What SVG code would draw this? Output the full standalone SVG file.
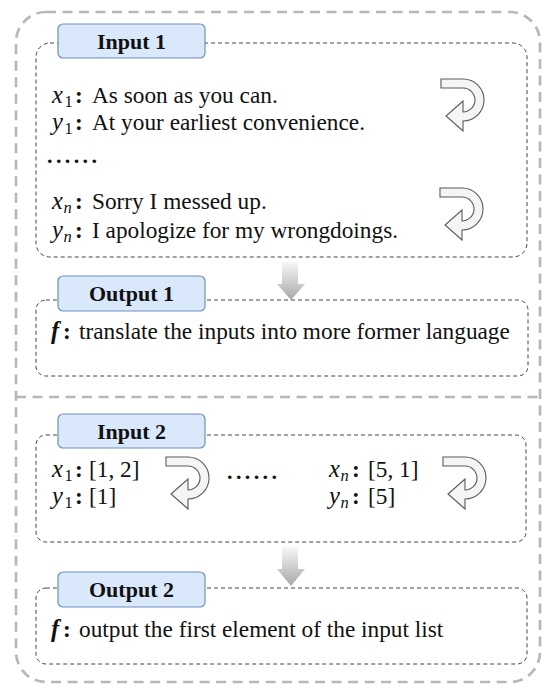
<svg xmlns="http://www.w3.org/2000/svg" width="542" height="685" viewBox="0 0 542 685">
<style>
.outer{fill:none;stroke:#b8b8b8;stroke-width:2.7;stroke-dasharray:10 6.5}
.box{fill:none;stroke:#444;stroke-width:1;stroke-dasharray:4 3}
.lab{fill:#dae8fc;stroke:#6c8ebf;stroke-width:1.2}
.lt{font-family:"Liberation Serif","Times New Roman",serif;font-size:22px;font-weight:bold;fill:#111;text-anchor:middle}
.t{font-family:"Liberation Serif","Times New Roman",serif;font-size:23.3px;fill:#111}
.m{font-style:italic;font-size:24.5px}
.s{font-size:16.5px}
.b{font-weight:bold}
.dots{font-family:"Liberation Serif",serif;font-size:22px;font-weight:bold;fill:#111;letter-spacing:3.4px}
.ua{fill:#f5f5f5;stroke:#5a5a5a;stroke-width:1.1;stroke-linejoin:miter}
.da{fill:url(#g);stroke:none}
</style>
<defs>
<linearGradient id="g" x1="0" y1="0" x2="0" y2="1">
<stop offset="0" stop-color="#f7f7f7"/>
<stop offset="1" stop-color="#a8a8a8"/>
</linearGradient>
<path id="uturn" d="M0,0 H22 A21,21 0 0 1 22,42 V52 L5,37 L22,22 V33 A12,12 0 0 0 22,9 H0 Z"/>
</defs>
<g id="frame">
<rect class="outer" x="16" y="12" width="524" height="670" rx="30"/>
<line class="outer" x1="16" y1="397" x2="540" y2="397"/>
</g>
<g id="connectors">
<path class="da" d="M282,262 H298 V284 H305 L291,300 L277,284 H282 Z"/>
<path class="da" d="M282,547 H298 V569 H305 L291,586 L277,569 H282 Z"/>
</g>
<g id="input1">
<rect class="box" x="36" y="43" width="491" height="214" rx="14"/>
<rect class="lab" x="58" y="24" width="147" height="34" rx="5"/>
<text class="lt" x="131.5" y="49">Input 1</text>
<text class="t" x="52" y="103"><tspan class="m">x</tspan><tspan class="s" dx="1.5" dy="4">1</tspan><tspan class="b" x="75" dy="-4">:</tspan><tspan x="92">As soon as you can.</tspan></text>
<text class="t" x="52" y="130"><tspan class="m">y</tspan><tspan class="s" dx="1.5" dy="4">1</tspan><tspan class="b" x="75" dy="-4">:</tspan><tspan x="92">At your earliest convenience.</tspan></text>
<text class="dots" x="47" y="163">......</text>
<text class="t" x="52" y="209"><tspan class="m">x</tspan><tspan class="m s" dx="0.5" dy="4">n</tspan><tspan class="b" x="75" dy="-4">:</tspan><tspan x="92">Sorry I messed up.</tspan></text>
<text class="t" x="52" y="238"><tspan class="m">y</tspan><tspan class="m s" dx="0.5" dy="4">n</tspan><tspan class="b" x="75" dy="-4">:</tspan><tspan x="92">I apologize for my wrongdoings.</tspan></text>
<use href="#uturn" class="ua" x="441" y="79"/>
<use href="#uturn" class="ua" x="440" y="188"/>
</g>
<g id="output1">
<rect class="box" x="36" y="300" width="492" height="76" rx="10"/>
<rect class="lab" x="58" y="276" width="147" height="35" rx="5"/>
<text class="lt" x="131.5" y="301">Output 1</text>
<text class="t" x="51" y="339"><tspan class="m b">f</tspan><tspan class="b" x="63">:</tspan><tspan x="79">translate the inputs into more former language</tspan></text>
</g>
<g id="input2">
<rect class="box" x="36" y="435" width="490" height="107" rx="10"/>
<rect class="lab" x="58" y="414" width="147" height="34" rx="5"/>
<text class="lt" x="131.5" y="439">Input 2</text>
<text class="t" x="52" y="477"><tspan class="m">x</tspan><tspan class="s" dx="1.5" dy="4">1</tspan><tspan class="b" x="75" dy="-4">:</tspan><tspan x="89">[1, 2]</tspan></text>
<text class="t" x="52" y="504"><tspan class="m">y</tspan><tspan class="s" dx="1.5" dy="4">1</tspan><tspan class="b" x="75" dy="-4">:</tspan><tspan x="89">[1]</tspan></text>
<use href="#uturn" class="ua" x="166" y="457"/>
<text class="dots" x="227" y="479">......</text>
<text class="t" x="329" y="477"><tspan class="m">x</tspan><tspan class="m s" dx="0.5" dy="4">n</tspan><tspan class="b" x="352" dy="-4">:</tspan><tspan x="368">[5, 1]</tspan></text>
<text class="t" x="329" y="504"><tspan class="m">y</tspan><tspan class="m s" dx="0.5" dy="4">n</tspan><tspan class="b" x="352" dy="-4">:</tspan><tspan x="368">[5]</tspan></text>
<use href="#uturn" class="ua" x="443" y="457"/>
</g>
<g id="output2">
<rect class="box" x="36" y="588" width="491" height="76" rx="10"/>
<rect class="lab" x="58" y="572" width="147" height="35" rx="5"/>
<text class="lt" x="131.5" y="597">Output 2</text>
<text class="t" x="51" y="637"><tspan class="m b">f</tspan><tspan class="b" x="63">:</tspan><tspan x="79">output the first element of the input list</tspan></text>
</g>
</svg>
